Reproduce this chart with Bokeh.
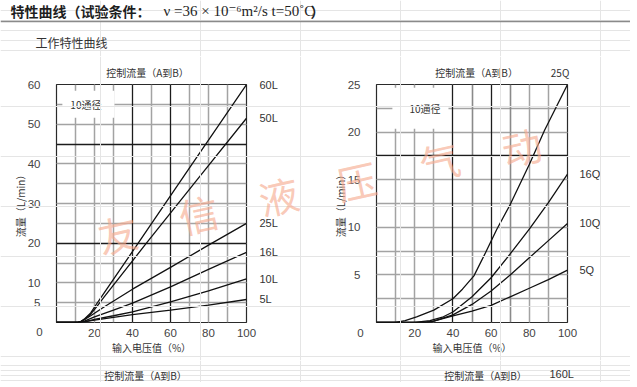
from bokeh.plotting import figure
from bokeh.models import Range1d, FixedTicker, Grid, Label, Span, LinearAxis
from bokeh.layouts import column, row
from bokeh.embed import file_html
from bokeh.resources import INLINE

# ---------------- data ----------------
title_cn = "特性曲线（试验条件："
title_formula = "ν =36 × 10⁻⁶m²/s  t=50˚C"
title_close = "）"
subtitle = "工作特性曲线"
chart_title = "控制流量（A到B）"
x_title = "输入电压值（%）"
y_title = "流量（L/min）"
size_note = "10通径"
watermark = ["友", "信", "液", "压", "气", "动"]
next_label = "160L"

x_ticks = [20, 40, 60, 80, 100]
left_y_ticks = [5, 10, 20, 30, 40, 50, 60]
right_y_ticks = [5, 10, 15, 20, 25]

# left chart: flow (L/min) vs input voltage (%)
v_60L = [0, 11, 13, 15, 18, 21, 25, 43, 70, 100]
f_60L = [0, 0, 0.3, 1.0, 2.4, 4.6, 7.4, 20, 39, 60]
v_50L = [0, 11, 13, 15, 18, 21, 25, 47, 75, 100]
f_50L = [0, 0, 0.3, 0.9, 2.1, 3.9, 6.4, 19.8, 36.6, 51.5]
v_25L = [0, 11, 14, 18, 25, 40, 60, 80, 100]
f_25L = [0, 0, 0.5, 1.7, 3.9, 8.4, 13.9, 19.5, 25]
v_16L = [0, 12, 15, 20, 30, 40, 60, 80, 100]
f_16L = [0, 0, 0.4, 1.4, 3.1, 4.9, 9.0, 13.4, 17.7]
v_10L = [0, 12, 16, 20, 30, 40, 60, 80, 100]
f_10L = [0, 0, 0.3, 0.8, 1.7, 2.7, 5.2, 8.0, 11.0]
v_5L = [0, 10, 15, 20, 30, 40, 60, 80, 100]
f_5L = [0, 0, 0.25, 0.6, 1.3, 2.0, 3.1, 4.4, 5.8]
left_series = [("60L", v_60L, f_60L), ("50L", v_50L, f_50L), ("25L", v_25L, f_25L),
               ("16L", v_16L, f_16L), ("10L", v_10L, f_10L), ("5L", v_5L, f_5L)]

# right chart
v_25Q = [0, 10, 15, 21, 30, 40, 45, 51, 57, 63, 70, 80, 88, 100]
f_25Q = [0, 0, 0.2, 0.6, 1.3, 2.5, 3.5, 4.9, 7.3, 9.8, 12.4, 16.6, 20.2, 25]
v_16Q = [0, 20, 28, 35, 40, 50, 60, 70, 80, 90, 100]
f_16Q = [0, 0, 0.2, 0.6, 1.1, 2.7, 4.7, 7.2, 9.8, 12.6, 15.6]
v_10Q = [0, 25, 30, 40, 50, 60, 70, 80, 90, 100]
f_10Q = [0, 0, 0.15, 0.8, 1.9, 3.3, 5.0, 6.8, 8.6, 10.4]
v_5Q = [0, 25, 30, 40, 50, 60, 70, 80, 90, 100]
f_5Q = [0, 0, 0.15, 0.7, 1.2, 1.8, 2.7, 3.6, 4.5, 5.5]
right_series = [("25Q", v_25Q, f_25Q), ("16Q", v_16Q, f_16Q),
                ("10Q", v_10Q, f_10Q), ("5Q", v_5Q, f_5Q)]

# ---------------- styles ----------------
CJK = "Noto Sans CJK SC"
NUM = "Liberation Sans Narrow, Liberation Sans, sans-serif"
SERIF = "Liberation Serif, DejaVu Serif, serif"
TXT = "#333333"
GRAY = "#a3a3a3"
DARK = "#1c1c1c"
W = 630
TOP_H, MID_H, BOT_H = 56, 304, 22
LEFT_W = 320
RIGHT_W = W - LEFT_W


def blank(width, height, transparent=False, margin=None):
    kw = {"margin": margin} if margin else {}
    p = figure(width=width, height=height, x_range=Range1d(0, width), y_range=Range1d(height, 0),
               min_border=0, x_axis_location=None, y_axis_location=None, title=None,
               toolbar_location=None, output_backend="svg", outline_line_color=None, **kw)
    if transparent:
        p.background_fill_color = None
        p.border_fill_color = None
    return p


# ---------------- top strip ----------------
top = blank(W, TOP_H)
top.add_layout(Span(location=21, dimension="width", line_color="#8a8a8a", line_width=1.5))
top.add_layout(Label(x=10, y=10, text=title_cn, text_font=CJK, text_font_size="14px",
                     text_font_style="bold", text_color="#1e1e1e", text_baseline="middle"))
top.add_layout(Label(x=163, y=10, text=title_formula, text_font=SERIF, text_font_size="15px",
                     text_color="#1e1e1e", text_baseline="middle"))
top.add_layout(Label(x=310, y=10, text=title_close, text_font=CJK, text_font_size="14px",
                     text_font_style="bold", text_color="#1e1e1e", text_baseline="middle"))
top.add_layout(Label(x=35, y=41.5, text=subtitle, text_font=CJK, text_font_size="12px",
                     text_color=TXT, text_baseline="middle"))


def plain_axis(ax):
    ax.major_tick_line_color = None
    ax.minor_tick_line_color = None
    ax.axis_line_color = None
    return ax


def chart(width, b_right, y_max, y_ticks, gray_x, mid_x, bold_x, gray_y, bold_y, series,
          top_ticks, top_texts, end_label_dx):
    p = figure(width=width, height=MID_H, x_range=Range1d(0, 100), y_range=Range1d(0, y_max),
               min_border_left=56, min_border_right=b_right, min_border_top=28,
               min_border_bottom=38, title=None, toolbar_location=None, output_backend="svg",
               x_axis_location=None, y_axis_location=None)
    p.outline_line_color = "#2a2a2a"
    p.outline_line_width = 1.2

    p.add_layout(Grid(dimension=0, ticker=FixedTicker(ticks=gray_x),
                      grid_line_color=GRAY, grid_line_width=1.5))
    p.add_layout(Grid(dimension=1, ticker=FixedTicker(ticks=gray_y),
                      grid_line_color=GRAY, grid_line_width=1.5))
    if mid_x:
        p.add_layout(Grid(dimension=0, ticker=FixedTicker(ticks=mid_x),
                          grid_line_color="#8a8a8a", grid_line_width=1.6))
    p.add_layout(Grid(dimension=0, ticker=FixedTicker(ticks=bold_x),
                      grid_line_color=DARK, grid_line_width=1.3))
    p.add_layout(Grid(dimension=1, ticker=FixedTicker(ticks=bold_y),
                      grid_line_color=DARK, grid_line_width=1.3))

    for name, v, f in series:
        p.line(v, f, line_color="#111111", line_width=1.3)

    xa = plain_axis(LinearAxis(ticker=FixedTicker(ticks=x_ticks), axis_label=x_title))
    xa.major_label_standoff = 0
    xa.axis_label_standoff = 0
    ya = plain_axis(LinearAxis(ticker=FixedTicker(ticks=y_ticks), axis_label=y_title))
    ya.major_label_standoff = 10
    ya.axis_label_standoff = -3
    for ax in (xa, ya):
        ax.major_label_text_font = NUM
        ax.major_label_text_font_size = "11.5px"
        ax.major_label_text_color = "#444444"
        ax.axis_label_text_font = CJK
        ax.axis_label_text_font_size = "10px"
        ax.axis_label_text_font_style = "normal"
        ax.axis_label_text_color = TXT

    # axis above: chart title (and the curve label that sits above the frame)
    ta = plain_axis(LinearAxis(ticker=FixedTicker(ticks=top_ticks),
                               major_label_overrides=dict(zip(top_ticks, top_texts))))
    ta.major_label_text_font = CJK
    ta.major_label_text_font_size = "10px"
    ta.major_label_text_color = TXT
    ta.major_label_standoff = -1

    # axis right: curve end labels
    ends = [(f[-1], name) for name, v, f in series if name not in top_texts]
    ra = plain_axis(LinearAxis(ticker=FixedTicker(ticks=[e[0] for e in ends]),
                               major_label_overrides={e[0]: e[1] for e in ends}))
    ra.major_label_text_font = NUM
    ra.major_label_text_font_size = "11px"
    ra.major_label_text_color = TXT
    ra.major_label_standoff = end_label_dx

    p.add_layout(xa, "below")
    p.add_layout(ya, "left")
    p.add_layout(ta, "above")
    p.add_layout(ra, "right")
    return p


left = chart(LEFT_W, 74, 60, left_y_ticks, [10, 20, 30, 50, 70, 80, 90], None, [40, 60],
             [5, 10, 15, 25, 30, 35, 40, 50, 55], [20, 45], left_series,
             [47.9], [chart_title], 7)
right = chart(RIGHT_W, RIGHT_W - 56 - 191, 25, right_y_ticks, [10, 20, 30, 80, 90], [50, 70],
              [40, 60], [2.5, 5, 7.5, 10, 12.5, 15, 20, 22.5], [17.5], right_series,
              [52.4, 96.1], [chart_title, "25Q"], 6)

# "10通径" notes with a white box over the grid
left.add_layout(Label(x=16.8, y=55, text=size_note, text_align="center", text_baseline="middle",
                      text_font=CJK, text_font_size="10px", text_color=TXT,
                      background_fill_color="white",
                      padding=dict(left=8, right=13, top=6, bottom=6)))
right.add_layout(Label(x=23.0, y=22.5, text=size_note, text_align="center", text_baseline="middle",
                       text_font=CJK, text_font_size="10px", text_color=TXT,
                       background_fill_color="white",
                       padding=dict(left=17, right=8, top=13, bottom=13)))

# ---------------- transparent overlay laid over the chart row (negative top margin) ----------------
overlay = blank(W, MID_H, transparent=True, margin=(-MID_H, 0, 0, 0))
# positions in pixels, y measured from the top of the chart row
zero_pos = [(39, 275), (360, 276)]
for (px, py) in zero_pos:
    overlay.add_layout(Label(x=px, y=py, text="0", text_align="center", text_baseline="middle",
                             text_font=NUM, text_font_size="11.5px", text_color="#444444"))
wm_pos = [(117, 177), (198, 157), (278, 139), (356, 124), (439, 104), (521, 90)]
for ch, (px, py) in zip(watermark, wm_pos):
    overlay.add_layout(Label(x=px, y=py, text=ch, angle=0.22, text_align="center",
                             text_baseline="middle", text_font=CJK, text_font_size="40px",
                             text_color="#f6ab90", text_alpha=0.65))

# ---------------- bottom strip (start of next charts) ----------------
bottom = blank(W, BOT_H)
bottom.add_layout(Label(x=145, y=14.5, text=chart_title, text_align="center", text_baseline="middle",
                        text_font=CJK, text_font_size="10px", text_color=TXT))
bottom.add_layout(Label(x=485, y=14.5, text=chart_title, text_align="center", text_baseline="middle",
                        text_font=CJK, text_font_size="10px", text_color=TXT))
bottom.add_layout(Label(x=549, y=13, text=next_label, text_align="left", text_baseline="middle",
                        text_font=NUM, text_font_size="11px", text_color=TXT))

page = column(top, row(left, right), overlay, bottom)
open("out.html", "w").write(file_html(page, INLINE))
